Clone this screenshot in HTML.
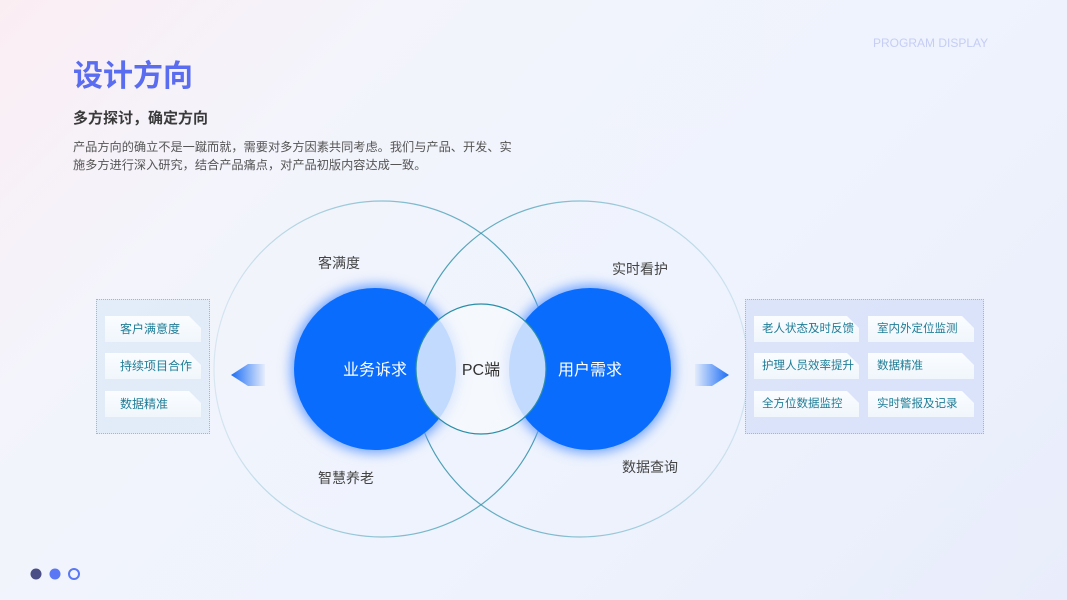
<!DOCTYPE html>
<html><head><meta charset="utf-8"><style>
body{margin:0;width:1067px;height:600px;overflow:hidden;font-family:"Liberation Sans","Noto Sans CJK SC",sans-serif;
background:linear-gradient(135deg,#fbeef3 0%,#f3f4fc 25%,#eef3fd 60%,#e9edfb 100%);position:relative}
.a{position:absolute}
.item{position:absolute;height:26px;background:linear-gradient(180deg,#fbfdff,#f0f6fc);font-size:12px;color:#1f7d96;line-height:26px;white-space:nowrap;
clip-path:polygon(0 0,calc(100% - 12px) 0,100% 12px,100% 100%,0 100%);box-shadow:0 1px 2px #c8d8ea}
.r{font-size:11.5px}
</style></head><body>
<div class="a" style="left:73px;top:51px;font-size:30px;font-weight:bold;color:#5a6cf0">设计方向</div>
<div class="a" style="left:873px;top:36px;font-size:12px;color:#c5cdf5">PROGRAM DISPLAY</div>
<div class="a" style="left:73px;top:107px;font-size:15px;font-weight:bold;color:#3a3a3a">多方探讨，确定方向</div>
<div class="a" style="left:73px;top:138px;font-size:12.2px;color:#555;line-height:18px;width:442px">产品方向的确立不是一蹴而就，需要对多方因素共同考虑。我们与产品、开发、实施多方进行深入研究，结合产品痛点，对产品初版内容达成一致。</div>
<svg class="a" style="left:0;top:0" width="1067" height="600">
<defs>
<linearGradient id="gl" x1="0" x2="1"><stop offset="0" stop-color="#3a9ab0" stop-opacity="0.15"/><stop offset="1" stop-color="#2a8ea8" stop-opacity="0.9"/></linearGradient>
<linearGradient id="gr" x1="0" x2="1"><stop offset="0" stop-color="#2a8ea8" stop-opacity="0.9"/><stop offset="1" stop-color="#3a9ab0" stop-opacity="0.15"/></linearGradient>
<filter id="gw" x="-30%" y="-30%" width="160%" height="160%"><feGaussianBlur stdDeviation="6"/></filter>
<linearGradient id="al" x1="0" x2="1"><stop offset="0" stop-color="#1c6ef5"/><stop offset="1" stop-color="#1c6ef5" stop-opacity="0.05"/></linearGradient>
<linearGradient id="ar" x1="1" x2="0"><stop offset="0" stop-color="#1c6ef5"/><stop offset="1" stop-color="#1c6ef5" stop-opacity="0.05"/></linearGradient>
</defs>
<circle cx="382" cy="369" r="168" fill="none" stroke="url(#gl)" stroke-width="1.2"/>
<circle cx="580" cy="369" r="168" fill="none" stroke="url(#gr)" stroke-width="1.2"/>
<circle cx="375" cy="369" r="84" fill="#6aa0ff" filter="url(#gw)"/>
<circle cx="590" cy="369" r="84" fill="#6aa0ff" filter="url(#gw)"/>
<circle cx="375" cy="369" r="81" fill="#0a6cfd"/>
<circle cx="590" cy="369" r="81" fill="#0a6cfd"/>
<circle cx="481" cy="369" r="65" fill="#f6f8fd" fill-opacity="0.78" stroke="#2a8ea8" stroke-width="1.2"/>
<text x="375" y="375" font-size="16" fill="#fff" text-anchor="middle">业务诉求</text>
<text x="590" y="375" font-size="16" fill="#fff" text-anchor="middle">用户需求</text>
<text x="481" y="375" font-size="16" fill="#333" text-anchor="middle">PC端</text>
<text x="318" y="268" font-size="14" fill="#444">客满度</text>
<text x="612" y="274" font-size="14" fill="#444">实时看护</text>
<text x="318" y="483" font-size="14" fill="#444">智慧养老</text>
<text x="622" y="472" font-size="14" fill="#444">数据查询</text>
<polygon points="231,375 248,364 265,364 265,386 248,386" fill="url(#al)"/>
<polygon points="729,375 712,364 695,364 695,386 712,386" fill="url(#ar)"/>
<circle cx="36" cy="574" r="5.5" fill="#4a4d86"/>
<circle cx="55" cy="574" r="5.5" fill="#5a78f5"/>
<circle cx="74" cy="574" r="5" fill="none" stroke="#5a78f5" stroke-width="2"/>
</svg>
<div class="a" style="left:96px;top:299px;width:112px;height:133px;border:1.5px dotted #8cc0d4;background:rgba(220,232,248,0.7)"></div>
<div class="item" style="left:105px;top:316px;width:96px;padding-left:15px;box-sizing:border-box">客户满意度</div>
<div class="item" style="left:105px;top:353px;width:96px;padding-left:15px;box-sizing:border-box">持续项目合作</div>
<div class="item" style="left:105px;top:391px;width:96px;padding-left:15px;box-sizing:border-box">数据精准</div>
<div class="a" style="left:745px;top:299px;width:237px;height:133px;border:1.5px dotted #8cc0d4;background:rgba(214,224,248,0.8)"></div>
<div class="item r" style="left:754px;top:316px;width:105px;padding-left:8px;box-sizing:border-box">老人状态及时反馈</div>
<div class="item r" style="left:868px;top:316px;width:106px;padding-left:9px;box-sizing:border-box">室内外定位监测</div>
<div class="item r" style="left:754px;top:353px;width:105px;padding-left:8px;box-sizing:border-box">护理人员效率提升</div>
<div class="item r" style="left:868px;top:353px;width:106px;padding-left:9px;box-sizing:border-box">数据精准</div>
<div class="item r" style="left:754px;top:391px;width:105px;padding-left:8px;box-sizing:border-box">全方位数据监控</div>
<div class="item r" style="left:868px;top:391px;width:106px;padding-left:9px;box-sizing:border-box">实时警报及记录</div>
</body></html>
